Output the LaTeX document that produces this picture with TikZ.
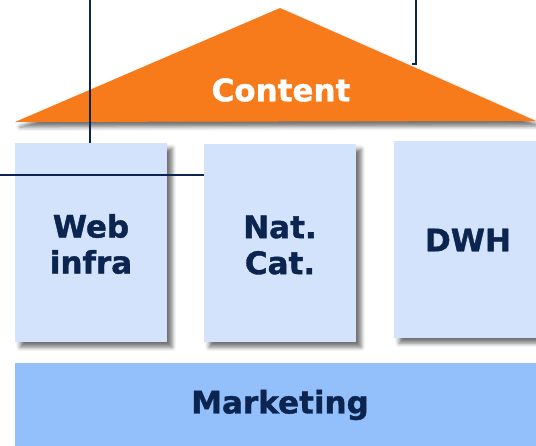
\documentclass[tikz,border=0pt]{standalone}
\usepackage{fontspec}
\setmainfont{DejaVu Sans}[BoldFeatures={FakeBold=1.2}]
\usetikzlibrary{shadows.blur}
\definecolor{navy}{HTML}{0B2550}
\definecolor{orangefill}{HTML}{F77A1B}
\definecolor{paleblue}{HTML}{D3E3FB}
\definecolor{midblue}{HTML}{93BFFB}
\tikzset{
  softshadow/.style={blur shadow={shadow xshift=5pt, shadow yshift=-5pt, shadow blur radius=4pt, shadow opacity=55}},
  pillar/.style={fill=paleblue, softshadow, anchor=north west, inner sep=0pt},
  label/.style={text=navy, font=\fontsize{31}{36}\selectfont\bfseries, align=center},
  link/.style={draw=navy, line width=2pt}
}
\begin{document}
\begin{tikzpicture}[x=1pt, y=-1pt]
  \useasboundingbox (0,0) rectangle (536,445);
  % roof
  \coordinate (apex) at (280,8);
  \coordinate (eaveL) at (15,122);
  \coordinate (eaveR) at (536,121);
  \fill[orangefill, softshadow] (eaveL) -- (apex) -- (eaveR) -- cycle;
  \node[label, text=white] (content) at (281,90) {Content};
  % pillars
  \node[pillar, minimum width=152pt, minimum height=199pt] (web) at (15,143) {};
  \node[label] (webtxt) at (91,244) {Web\\infra};
  \node[pillar, minimum width=152pt, minimum height=198pt] (nat) at (204,144) {};
  \node[label] (nattxt) at (280,245) {Nat.\\Cat.};
  \node[pillar, minimum width=145pt, minimum height=197pt] (dwh) at (394,141) {};
  \node[label] (dwhtxt) at (468,240) {DWH};
  % base
  \node[fill=midblue, anchor=north west, inner sep=0pt, minimum width=525pt, minimum height=85pt] (base) at (15,363) {};
  \node[label] (marktxt) at (280,405) {Marketing};
  % links
  \coordinate (topA) at (90,0);
  \coordinate (leftB) at (0,175);
  \coordinate (topC) at (416,0);
  \coordinate (bendC) at (416,64);
  \coordinate (endC) at (412,64);
  \draw[link] (topA) -- (web.north west -| topA);
  \draw[link] (leftB) -- (nat.west |- leftB);
  \draw[link] (topC) -- (bendC) -- (endC);
\end{tikzpicture}
\end{document}
